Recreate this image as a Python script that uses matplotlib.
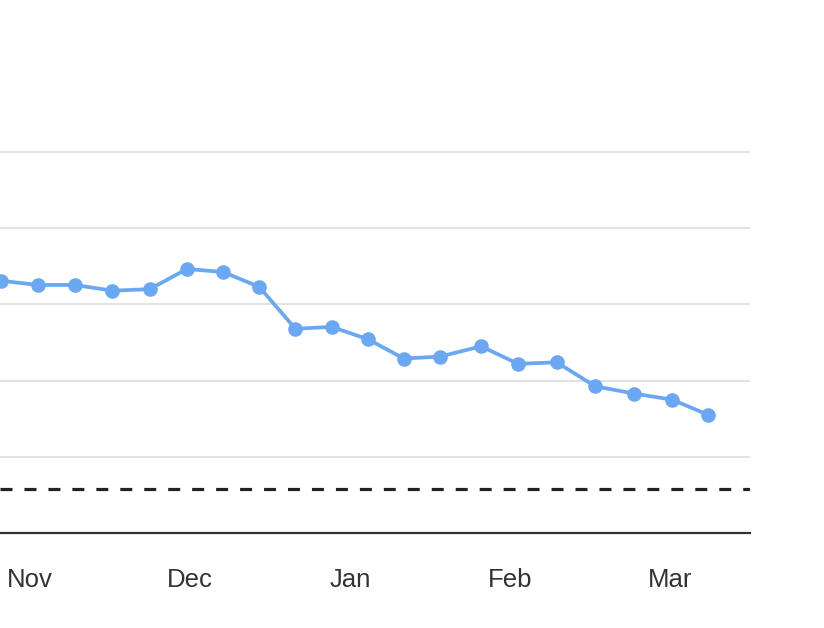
import calendar
import datetime as dt
import matplotlib
matplotlib.use("Agg")
import matplotlib.pyplot as plt
import matplotlib.transforms as mtrans

# ---- data ----
dates = ["2023-10-27", "2023-11-03", "2023-11-10", "2023-11-17", "2023-11-24",
         "2023-12-01", "2023-12-08", "2023-12-15", "2023-12-22", "2023-12-29",
         "2024-01-05", "2024-01-12", "2024-01-19", "2024-01-27", "2024-02-03",
         "2024-02-10", "2024-02-17", "2024-02-24", "2024-03-02", "2024-03-09"]
values = [66.2, 65.1, 65.1, 63.6, 64.0, 69.3, 68.5, 64.6, 53.6, 54.1,
          50.9, 45.8, 46.3, 49.0, 44.4, 44.8, 38.5, 36.6, 35.0, 31.0]
threshold = 11.5
month_labels = ["Nov", "Dec", "Jan", "Feb", "Mar"]
month_starts = ["2023-11-01", "2023-12-01", "2024-01-01", "2024-02-01", "2024-03-01"]
grid_values = [20, 40, 60, 80, 100]

# month-band position: each month occupies one unit, days spread within it
ORIGIN = (2023, 11)
def month_pos(s):
    d = dt.date.fromisoformat(s)
    ndays = calendar.monthrange(d.year, d.month)[1]
    m = (d.year - ORIGIN[0]) * 12 + (d.month - ORIGIN[1])
    return m + (d.day - 1) / ndays

xs = [month_pos(s) for s in dates]
ticks = [month_pos(s) for s in month_starts]

plt.rcParams["font.family"] = ["Liberation Sans", "DejaVu Sans"]

fig = plt.figure(figsize=(8.24, 6.28), dpi=100)
ax = fig.add_axes([0.0, 1 - 533 / 628, 750 / 824, 533 / 628])

ax.set_xlim(-27 / 160, 723 / 160)
ax.set_ylim(0, 533 / 3.81)

for g in grid_values:
    ax.axhline(g, color="#e3e3e3", linewidth=1.5, zorder=1)

ax.axhline(threshold, color="#222222", linewidth=2.3, linestyle=(0, (3.75, 3.75)), zorder=2)

ax.plot(xs, values, color="#6aa8f4", linewidth=2.7, marker="o", markersize=10.5,
        markeredgewidth=0, zorder=3, solid_joinstyle="round")

for side in ["left", "right", "top"]:
    ax.spines[side].set_visible(False)
ax.spines["bottom"].set_color("#333333")
ax.spines["bottom"].set_linewidth(1.6)

ax.set_yticks([])
ax.set_xticks(ticks)
ax.set_xticklabels(month_labels, fontsize=18.5, color="#333333")
ax.tick_params(axis="x", length=0, pad=25)

# shift labels a few pixels right of the month start
offset = mtrans.ScaledTranslation(3 / 100, 0, fig.dpi_scale_trans)
for lbl in ax.get_xticklabels():
    lbl.set_transform(lbl.get_transform() + offset)

fig.savefig("out.png", dpi=100, facecolor="white")
